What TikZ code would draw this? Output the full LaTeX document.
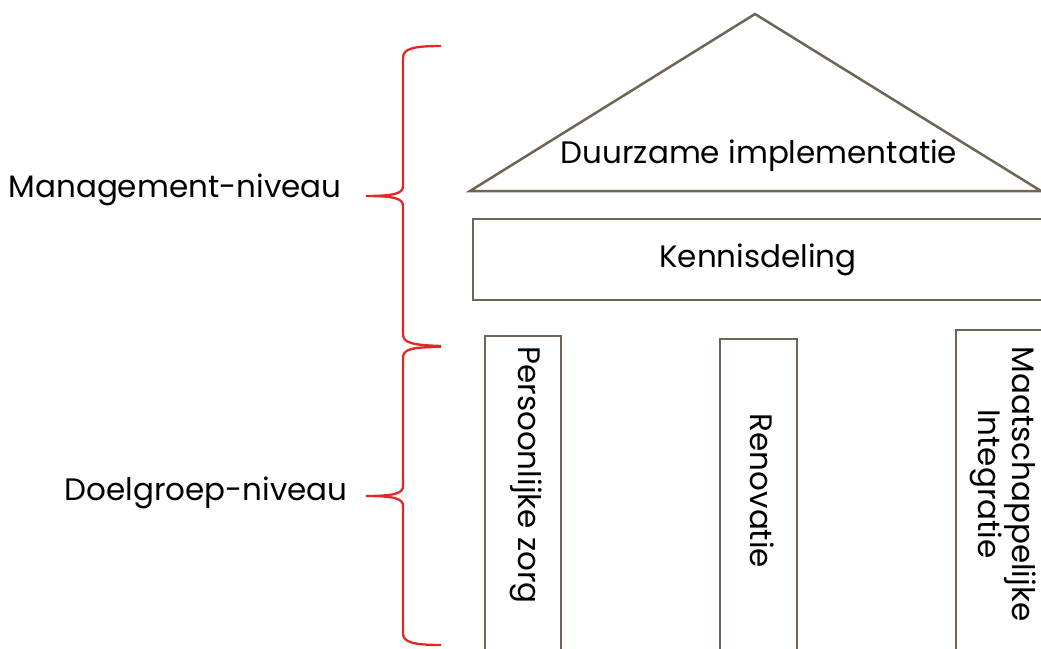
\documentclass[tikz,border=0pt]{standalone}
\usepackage{fontspec}
\setmainfont{Poppins}
\definecolor{outl}{RGB}{110,101,85}
\definecolor{brc}{RGB}{228,38,38}
\begin{document}
\begin{tikzpicture}[x=1pt,y=-1pt,
  shp/.style={draw=outl,line width=2.5pt,fill=white},
  lbl/.style={font=\fontsize{31}{34}\selectfont,text=black,inner sep=0pt,align=center},
  brace/.style={draw=brc,line width=2.3pt}]
\useasboundingbox (0,0) rectangle (1041,648);
\clip (0,0) rectangle (1041,648);
% roof
\draw[shp,line join=miter] (470,191) -- (755,14) -- (1041,191) -- cycle;
\node[lbl] (roof) at (759,156) {Duurzame implementatie};
% beam
\draw[shp] (473,219) rectangle (1070,300);
\node[lbl] (beam) at (758,260) {Kennisdeling};
% pillars
\draw[shp] (485,336) rectangle (561,670);
\draw[shp] (720,339) rectangle (797,670);
\draw[shp] (956,330) rectangle (1070,670);
\node[lbl,rotate=-90] (p1) at (526,475) {Persoonlijke zorg};
\node[lbl,rotate=-90] (p2) at (762,491) {Renovatie};
\node[lbl,rotate=-90] (p3) at (1003,484) {Maatschappelijke\\Integratie};
% braces
\draw[brace] (441,46) .. controls (412,46) and (403,49) .. (403,58) -- (403,186)
  .. controls (403,193) and (396,196) .. (366,196)
  .. controls (396,196) and (403,199) .. (403,206) -- (403,334)
  .. controls (403,343) and (412,345) .. (441,346);
\draw[brace] (441,347) .. controls (412,347) and (403,349) .. (403,358) -- (403,486)
  .. controls (403,493) and (396,496) .. (366,496)
  .. controls (396,496) and (403,499) .. (403,506) -- (403,633)
  .. controls (403,642) and (412,645) .. (441,645);
% level labels
\node[lbl] (mgmt) at (175,190) {Management-niveau};
\node[lbl] (doel) at (206,493) {Doelgroep-niveau};
\end{tikzpicture}
\end{document}
